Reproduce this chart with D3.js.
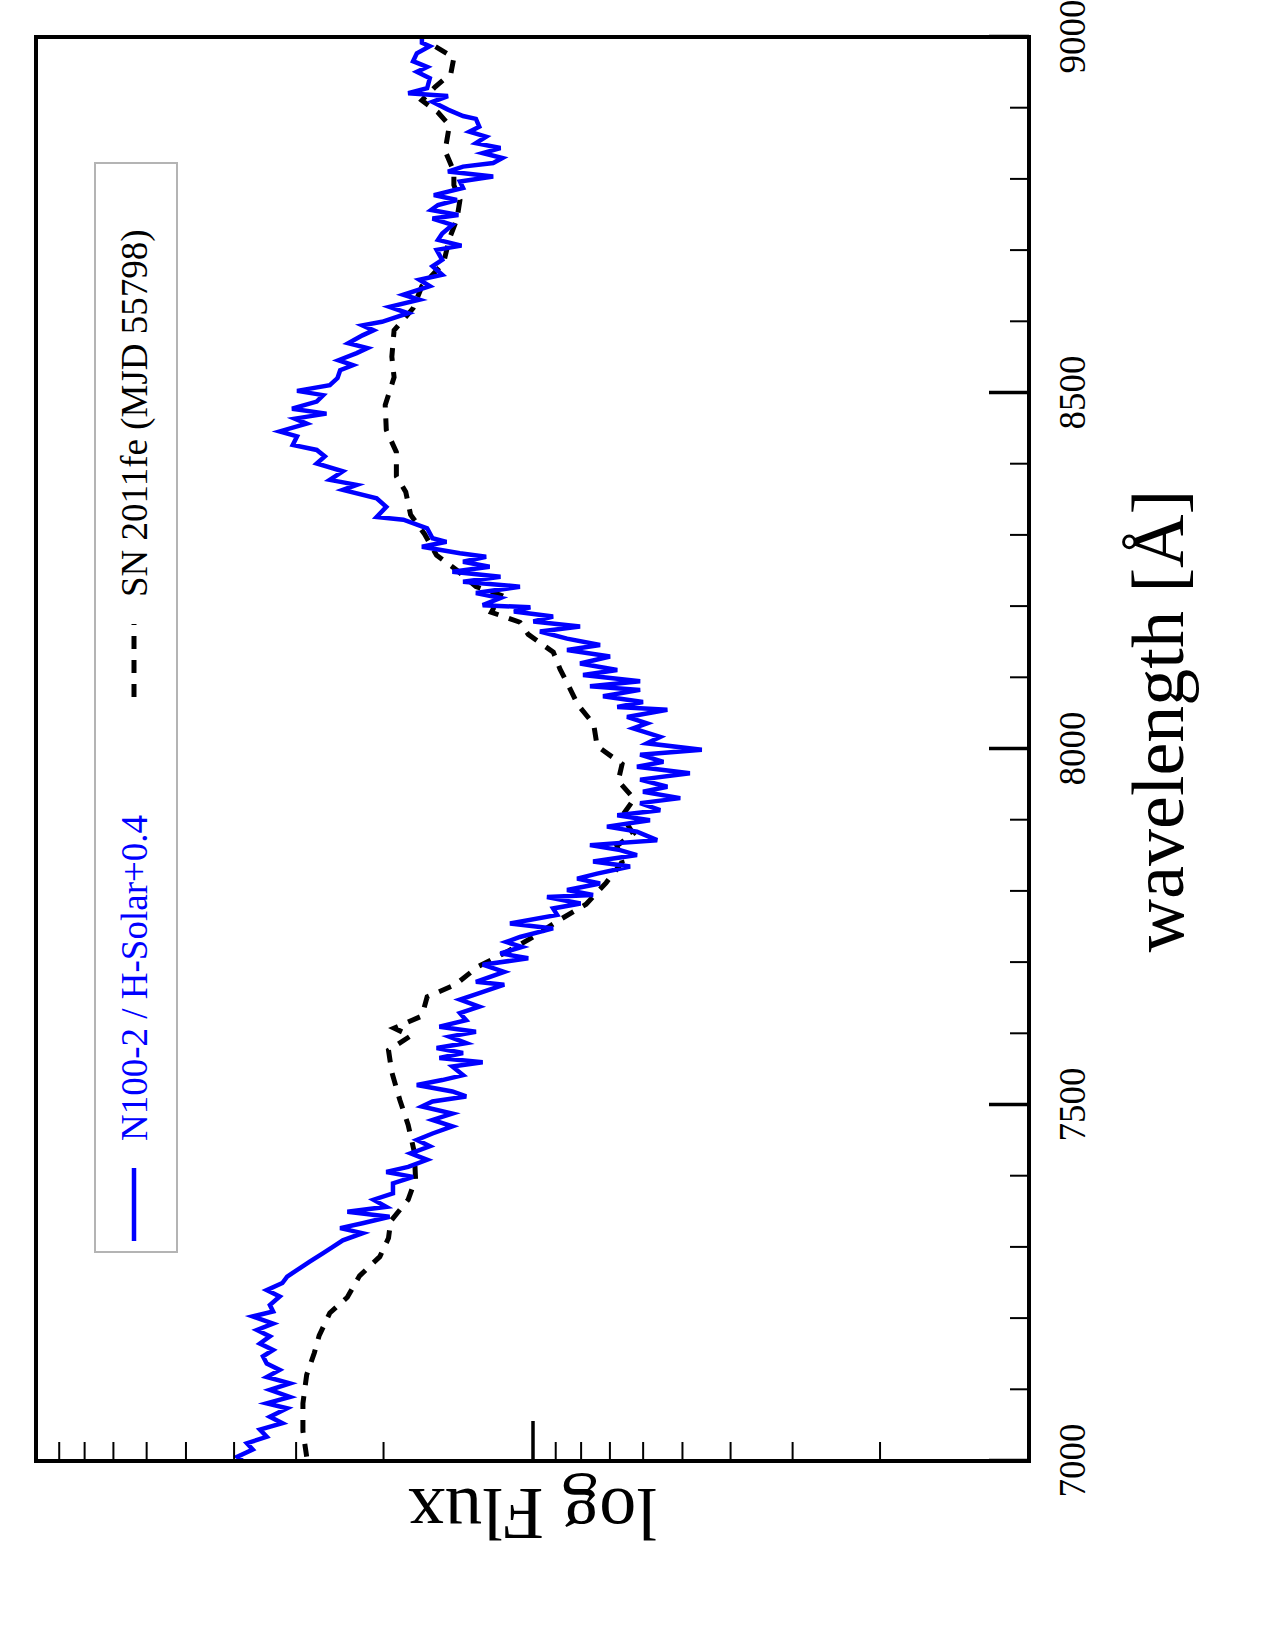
<!DOCTYPE html>
<html>
<head>
<meta charset="utf-8">
<script src="https://cdn.jsdelivr.net/npm/d3@7"></script>
<style>
  body { margin: 0; background: #fff; }
  text { font-family: "Liberation Serif", "Times New Roman", serif; }
</style>
</head>
<body>
<svg id="chart" width="1275" height="1650"></svg>
<script>
// wavelength axis (Angstrom)
const wavelengthTicks = [7000, 7500, 8000, 8500, 9000];
const minorWavelengthTicks = [7100, 7200, 7300, 7400, 7600, 7700, 7800, 7900,
                              8100, 8200, 8300, 8400, 8600, 8700, 8800, 8900];
// log flux axis (arbitrary units, no labels in the original)
const fluxMajorTicks = [1];
const fluxMinorTicks = [0.2, 0.3, 0.4, 0.5, 0.6, 0.7, 0.8, 0.9, 2, 3, 4, 5, 6, 7, 8, 9];

const seriesNames = ["N100-2 / H-Solar+0.4", "SN 2011fe (MJD 55798)"];

// N100-2 / H-Solar model (+0.4), noisy synthetic spectrum
const modelWave = [7000, 7006, 7016, 7025, 7034, 7044, 7053, 7062, 7074, 7081, 7090, 7100, 7109, 7118, 7128,
  7137, 7147, 7156, 7165, 7175, 7184, 7193, 7203, 7210, 7219, 7231, 7240, 7250, 7259, 7271, 7280, 7292, 7301,
  7310, 7320, 7327, 7334, 7343, 7350, 7357, 7367, 7376, 7390, 7399, 7406, 7413, 7423, 7432, 7442, 7451, 7460,
  7470, 7479, 7488, 7498, 7505, 7512, 7519, 7528, 7535, 7542, 7554, 7560, 7566, 7573, 7580, 7587, 7596, 7603,
  7610, 7619, 7629, 7638, 7648, 7657, 7669, 7673, 7687, 7697, 7706, 7713, 7722, 7729, 7736, 7748, 7755, 7767,
  7776, 7783, 7792, 7795, 7802, 7811, 7818, 7825, 7835, 7842, 7851, 7858, 7865, 7872, 7884, 7891, 7900, 7907,
  7914, 7924, 7931, 7940, 7947, 7957, 7966, 7975, 7982, 7992, 7999, 8008, 8017, 8029, 8036, 8045, 8055, 8059,
  8066, 8074, 8083, 8088, 8095, 8104, 8111, 8120, 8130, 8139, 8146, 8155, 8165, 8172, 8179, 8186, 8193, 8199,
  8202, 8212, 8219, 8228, 8235, 8242, 8249, 8256, 8263, 8270, 8275, 8284, 8291, 8296, 8310, 8322, 8326, 8340,
  8352, 8364, 8371, 8378, 8390, 8401, 8411, 8420, 8427, 8439, 8446, 8457, 8464, 8471, 8478, 8488, 8497, 8503,
  8511, 8521, 8532, 8539, 8546, 8556, 8563, 8570, 8581, 8588, 8595, 8600, 8612, 8621, 8631, 8638, 8650, 8659,
  8666, 8678, 8687, 8701, 8707, 8715, 8724, 8736, 8745, 8750, 8757, 8764, 8771, 8778, 8788, 8797, 8804, 8811,
  8818, 8823, 8830, 8837, 8844, 8851, 8860, 8867, 8874, 8885, 8889, 8898, 8909, 8917, 8921, 8928, 8942, 8951,
  8958, 8966, 8977, 8987, 8992, 9000];
const modelFlux = [3.83, 3.93, 3.66, 3.76, 3.43, 3.54, 3.19, 3.38, 3.12, 3.43, 3.08, 3.38, 3.08, 3.43, 3.23,
  3.43, 3.49, 3.33, 3.54, 3.38, 3.59, 3.33, 3.66, 3.33, 3.38, 3.23, 3.43, 3.19, 3.12, 2.94, 2.81, 2.64, 2.52,
  2.41, 2.20, 2.44, 2.20, 1.94, 2.36, 1.97, 2.09, 1.91, 1.91, 1.74, 1.97, 1.78, 1.63, 1.76, 1.61, 1.71, 1.59,
  1.45, 1.59, 1.45, 1.67, 1.59, 1.36, 1.45, 1.71, 1.52, 1.38, 1.45, 1.26, 1.54, 1.38, 1.56, 1.36, 1.47, 1.30,
  1.54, 1.36, 1.40, 1.28, 1.40, 1.28, 1.14, 1.30, 1.14, 1.26, 1.02, 1.16, 1.05, 1.13, 1.06, 0.909, 1.11, 0.892,
  0.909, 0.80, 0.935, 0.755, 0.852, 0.731, 0.813, 0.741, 0.636, 0.755, 0.616, 0.666, 0.766, 0.561, 0.616, 0.708, 0.580, 0.675,
  0.553, 0.607, 0.504, 0.599, 0.535, 0.607, 0.482, 0.616, 0.545, 0.607, 0.456, 0.588, 0.553, 0.627, 0.588, 0.645, 0.535, 0.675,
  0.599, 0.721, 0.607, 0.766, 0.607, 0.791, 0.675, 0.802, 0.698, 0.852, 0.731, 0.852, 0.966, 0.802, 0.996, 0.909, 1.09, 1.01,
  1.26, 1.16, 1.30, 1.06, 1.38, 1.16, 1.45, 1.22, 1.38, 1.24, 1.40, 1.67, 1.49, 1.59, 1.63, 1.82, 2.06, 1.97,
  2.06, 2.41, 2.26, 2.56, 2.41, 2.72, 2.62, 2.72, 3.04, 2.98, 3.23, 2.85, 3.01, 2.60, 3.05, 2.72, 2.64, 2.98,
  2.56, 2.47, 2.44, 2.30, 2.46, 2.26, 2.15, 2.35, 2.20, 2.09, 2.20, 2.01, 1.78, 1.94, 1.69, 1.82, 1.61, 1.69,
  1.52, 1.59, 1.52, 1.56, 1.39, 1.55, 1.52, 1.45, 1.59, 1.41, 1.60, 1.55, 1.42, 1.58, 1.38, 1.40, 1.20, 1.48,
  1.38, 1.20, 1.15, 1.26, 1.16, 1.30, 1.24, 1.34, 1.28, 1.30, 1.38, 1.48, 1.59, 1.48, 1.78, 1.63, 1.61, 1.71,
  1.63, 1.74, 1.71, 1.61, 1.67, 1.67];

// SN 2011fe observed spectrum
const snWave = [7006, 7042, 7081, 7121, 7152, 7176, 7208, 7230, 7260, 7287, 7313, 7337, 7367, 7396, 7434,
  7472, 7507, 7546, 7577, 7597, 7608, 7625, 7652, 7669, 7694, 7716, 7736, 7758, 7782, 7812, 7841, 7864, 7881,
  7906, 7930, 7955, 7979, 8004, 8035, 8062, 8093, 8112, 8136, 8161, 8178, 8192, 8216, 8228, 8251, 8272, 8302,
  8329, 8361, 8383, 8417, 8448, 8483, 8522, 8551, 8588, 8619, 8650, 8683, 8717, 8744, 8771, 8792, 8811, 8840,
  8876, 8894, 8911, 8930, 8949, 8971, 8990, 9000];
const snFlux = [2.85, 2.90, 2.90, 2.85, 2.75, 2.69, 2.56, 2.36, 2.23, 2.03, 1.95, 1.93, 1.78, 1.72, 1.73,
  1.78, 1.85, 1.92, 1.95, 1.76, 1.90, 1.67, 1.63, 1.43, 1.29, 1.12, 0.997, 0.892, 0.780, 0.711, 0.660, 0.676, 0.627,
  0.660, 0.624, 0.672, 0.660, 0.741, 0.753, 0.810, 0.852, 0.880, 0.908, 1.02, 1.06, 1.21, 1.16, 1.30, 1.42, 1.56, 1.65,
  1.76, 1.80, 1.88, 1.88, 1.97, 1.98, 1.90, 1.92, 1.90, 1.74, 1.67, 1.51, 1.47, 1.42, 1.40, 1.44, 1.44, 1.50,
  1.47, 1.55, 1.67, 1.57, 1.46, 1.44, 1.60, 1.61];

// the chart is drawn in its natural orientation and then turned a quarter turn
const W = 1424, H = 993;
const svg = d3.select("#chart");
const g = svg.append("g").attr("transform", "translate(36,1461) rotate(-90)");

const x = d3.scaleLinear().domain([7000, 9000]).range([0, W]);
const y = d3.scaleLog().domain([0.1, 10]).range([H, 0]);

g.append("clipPath").attr("id", "plotclip")
  .append("rect").attr("width", W).attr("height", H);

const line = d3.line().x(d => x(d[0])).y(d => y(d[1]));

g.append("path")
  .datum(d3.zip(snWave, snFlux))
  .attr("clip-path", "url(#plotclip)")
  .attr("fill", "none")
  .attr("stroke", "#000")
  .attr("stroke-width", 5)
  .attr("stroke-dasharray", "13,11")
  .attr("d", line);

g.append("path")
  .datum(d3.zip(modelWave, modelFlux))
  .attr("clip-path", "url(#plotclip)")
  .attr("fill", "none")
  .attr("stroke", "#0000ff")
  .attr("stroke-width", 4.5)
  .attr("stroke-linejoin", "miter")
  .attr("d", line);

// wavelength axis
g.append("g")
  .attr("transform", `translate(0,${H})`)
  .call(d3.axisBottom(x).tickValues(minorWavelengthTicks).tickSize(-19).tickFormat(""))
  .call(a => a.select(".domain").remove())
  .call(a => a.selectAll(".tick line").attr("stroke", "#000").attr("stroke-width", 2));

g.append("g")
  .attr("transform", `translate(0,${H})`)
  .call(d3.axisBottom(x).tickValues(wavelengthTicks).tickSize(-40).tickPadding(30).tickFormat(d3.format("d")))
  .call(a => a.select(".domain").remove())
  .call(a => a.selectAll(".tick line").attr("stroke", "#000").attr("stroke-width", 3.5))
  .call(a => a.selectAll(".tick text").attr("fill", "#000").style("font-size", "37px")
    .style("font-family", "'Liberation Serif', serif"));

// log flux axis
g.append("g")
  .call(d3.axisLeft(y).tickValues(fluxMinorTicks).tickSize(-19).tickFormat(""))
  .call(a => a.select(".domain").remove())
  .call(a => a.selectAll(".tick line").attr("stroke", "#000").attr("stroke-width", 2));

g.append("g")
  .call(d3.axisLeft(y).tickValues(fluxMajorTicks).tickSize(-40).tickFormat(""))
  .call(a => a.select(".domain").remove())
  .call(a => a.selectAll(".tick line").attr("stroke", "#000").attr("stroke-width", 3.5));

// frame
g.append("rect")
  .attr("width", W).attr("height", H)
  .attr("fill", "none").attr("stroke", "#000").attr("stroke-width", 4);

// axis titles
g.append("text")
  .attr("x", 740).attr("y", H + 154)
  .attr("text-anchor", "middle")
  .style("font-size", "74px")
  .text("wavelength [Å]");

g.append("text")
  .attr("transform", `translate(-28,${H / 2}) rotate(-90)`)
  .attr("text-anchor", "middle")
  .style("font-size", "74px")
  .text("log Flux");

// legend
const legend = g.append("g");
legend.append("rect")
  .attr("x", 209).attr("y", 59).attr("width", 1089).attr("height", 82)
  .attr("fill", "#fff").attr("stroke", "#b4b4b4").attr("stroke-width", 2);

const legendItems = [
  { name: seriesNames[0], color: "#0000ff", dash: null, width: 4.5, x0: 220 },
  { name: seriesNames[1], color: "#000", dash: "13,11", width: 5, x0: 764 }
];
legendItems.forEach(it => {
  legend.append("line")
    .attr("x1", it.x0).attr("x2", it.x0 + 73)
    .attr("y1", 98).attr("y2", 98)
    .attr("stroke", it.color).attr("stroke-width", it.width)
    .attr("stroke-dasharray", it.dash);
  legend.append("text")
    .attr("x", it.x0 + 100).attr("y", 111)
    .attr("fill", it.color)
    .style("font-size", "37px")
    .text(it.name);
});
</script>
</body>
</html>
